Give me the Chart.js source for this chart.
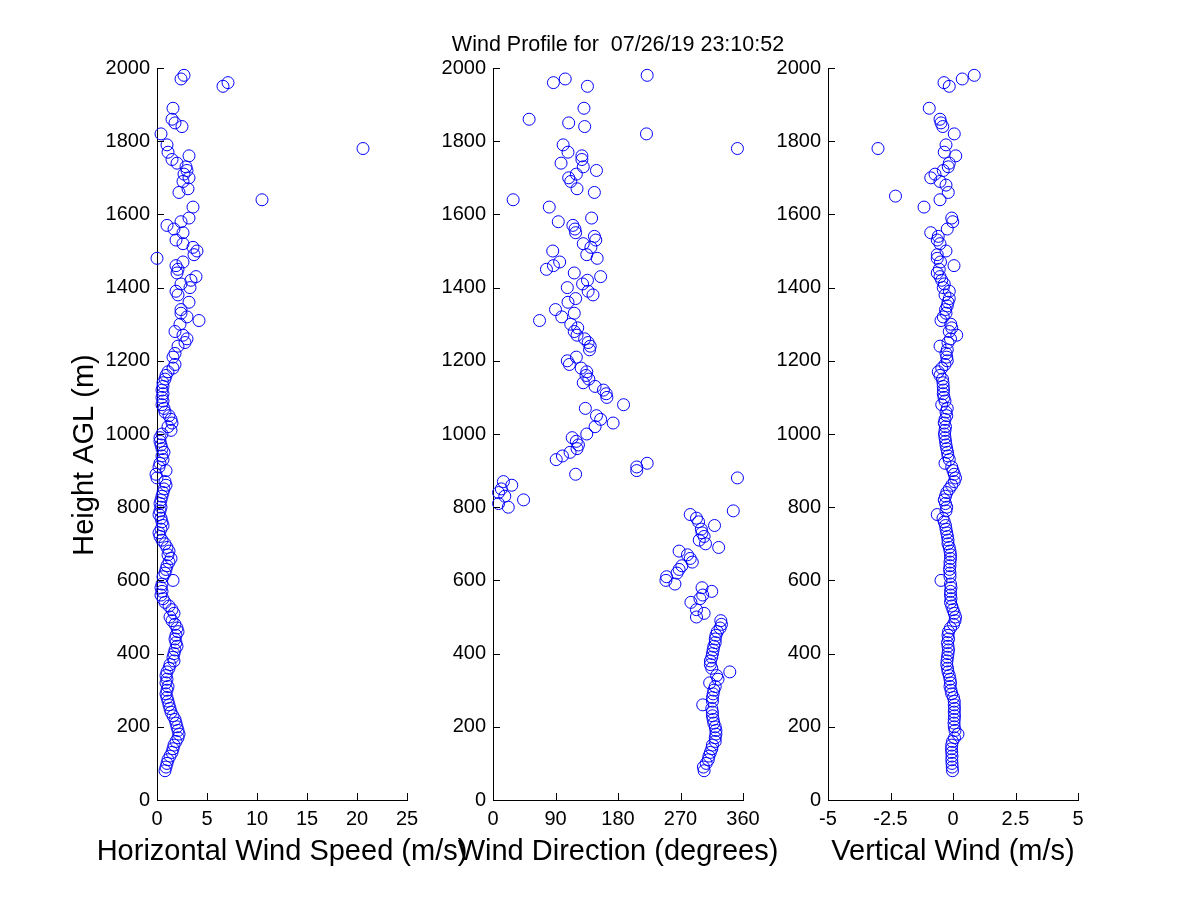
<!DOCTYPE html>
<html>
<head>
<meta charset="utf-8">
<title>Wind Profile</title>
<script src="https://cdn.jsdelivr.net/npm/chart.js@4.4.0/dist/chart.umd.min.js"></script>
<style>
  html, body { margin: 0; padding: 0; background: #ffffff; }
  #wrap { position: relative; width: 1200px; height: 900px; background: #ffffff; }
  #wrap canvas { position: absolute; left: 0; top: 0; }
</style>
</head>
<body>
<div id="wrap">
  <canvas id="speedChart" width="1200" height="900"></canvas>
  <canvas id="dirChart" width="1200" height="900"></canvas>
  <canvas id="vertChart" width="1200" height="900"></canvas>
</div>
<script>
// ---------------- DATA ----------------
const chartTitle = 'Wind Profile for  07/26/19 23:10:52';
const yAxisTitle = 'Height AGL (m)';
const xTitles = ['Horizontal Wind Speed (m/s)', 'Wind Direction (degrees)', 'Vertical Wind (m/s)'];

// Panel 1: horizontal wind speed (m/s) vs height (m)
const speedHeights = [1980,1970,1960,1950,1890,1860,1850,1840,1820,1790,1780,1770,1760,1750,1740,1730,1720,1710,1700,1690,1670,1660,1640,1620,1590,1580,1570,1560,1550,1530,1520,1510,1500,1490,1480,1470,1460,1450,1440,1430,1420,1410,1400,1390,1380,1360,1340,1330,1320,1310,1300,1280,1270,1260,1250,1240,1220,1210,1190,1180,1170,1160,1150,1140,1130,1120,1110,1100,1090,1080,1070,1060,1050,1040,1030,1020,1010,1000,990,980,970,960,950,940,930,920,910,900,890,880,870,860,850,840,830,820,810,800,790,780,770,760,750,740,730,720,710,700,690,680,670,660,650,640,630,620,610,600,590,580,570,560,550,540,530,520,510,500,490,480,470,460,450,440,430,420,410,400,390,380,370,360,350,340,330,320,310,300,290,280,270,260,250,240,230,220,210,200,190,180,170,160,150,140,130,120,110,100,90,80];
const speedValues  = [2.7,2.4,7.1,6.6,1.6,1.5,1.8,2.5,0.4,1.0,20.6,1.1,3.2,1.5,2.0,2.9,3.0,2.7,3.2,2.6,3.1,2.2,10.5,3.6,3.2,2.4,1.0,1.7,2.6,1.9,2.6,3.6,4.0,3.7,0.0,2.6,1.9,2.1,2.0,3.9,3.4,2.4,3.3,1.9,2.1,3.2,2.4,2.4,3.0,4.2,2.3,1.8,2.6,3.0,2.8,2.1,1.8,1.6,1.8,1.6,1.1,0.9,0.8,0.6,0.6,0.5,0.6,0.5,0.6,0.5,0.7,0.8,1.2,1.4,1.5,1.1,1.4,0.5,0.3,0.3,0.4,0.5,0.7,0.5,0.6,0.3,0.2,0.9,-0.1,0.0,0.8,0.9,0.7,0.6,0.5,0.4,0.3,0.4,0.3,0.2,0.4,0.5,0.6,0.4,0.2,0.3,0.5,0.8,1.0,1.2,1.1,1.4,1.2,1.0,0.9,0.8,0.6,1.6,0.5,0.4,0.5,0.4,0.6,0.8,1.2,1.5,1.7,1.3,1.5,1.8,2.0,2.1,1.9,1.8,1.9,2.0,1.8,1.7,1.6,1.7,1.3,1.2,1.0,0.9,1.0,0.9,1.1,1.0,0.9,1.0,1.1,1.2,1.3,1.4,1.6,1.8,1.9,2.0,2.1,2.2,2.1,1.9,1.7,1.6,1.5,1.3,1.1,1.0,0.9,0.8];

// Panel 2: wind direction (degrees) vs height (m)
const dirHeights = [1980,1970,1960,1950,1890,1860,1850,1840,1820,1790,1780,1770,1760,1750,1740,1730,1720,1710,1700,1690,1670,1660,1640,1620,1590,1580,1570,1560,1550,1540,1530,1520,1510,1500,1490,1480,1470,1460,1450,1440,1430,1420,1410,1400,1390,1380,1370,1360,1340,1330,1320,1310,1300,1290,1280,1270,1260,1250,1240,1230,1210,1200,1190,1180,1170,1160,1150,1140,1130,1120,1110,1100,1080,1070,1050,1040,1030,1020,1000,990,980,970,960,950,940,930,920,910,900,890,880,870,860,850,840,830,820,810,800,790,780,770,760,750,740,730,720,710,700,690,680,670,660,650,640,630,620,610,600,590,580,570,560,550,540,520,510,500,490,480,470,460,450,440,430,420,410,400,390,380,370,360,350,340,330,320,310,300,290,280,270,260,250,240,230,220,210,200,190,180,170,160,150,140,130,120,110,100,90,80];
const dirValues  = [222,104,87,136,131,52,109,132,221,101,352,108,128,128,98,130,149,120,109,112,121,146,29,81,142,94,115,118,119,146,148,130,141,86,135,150,96,87,77,117,155,136,129,107,137,144,119,108,90,117,99,67,112,122,117,121,132,137,140,139,120,107,110,127,135,134,138,130,147,159,163,164,188,133,149,155,173,147,135,114,120,123,121,111,100,91,222,207,207,119,352,15,27,12,8,17,44,8,22,346,284,293,296,319,300,301,304,297,306,325,268,280,284,287,272,268,265,250,249,262,301,315,302,298,285,293,304,293,328,329,327,323,321,320,320,318,317,316,315,313,313,315,341,322,324,312,320,318,317,316,316,302,315,316,316,317,318,320,321,321,320,320,316,315,313,311,310,307,303,304];

// Panel 3: vertical wind (m/s) vs height (m)
const vertHeights = [1980,1970,1960,1950,1890,1860,1850,1840,1820,1790,1780,1770,1760,1740,1730,1720,1710,1700,1690,1680,1660,1650,1640,1620,1590,1580,1560,1550,1540,1530,1520,1500,1490,1480,1470,1460,1450,1440,1430,1420,1410,1400,1390,1380,1370,1360,1350,1340,1330,1320,1310,1300,1290,1280,1270,1260,1250,1240,1230,1220,1210,1200,1190,1180,1170,1160,1150,1140,1130,1120,1110,1100,1090,1080,1070,1060,1050,1040,1030,1020,1010,1000,990,980,970,960,950,940,930,920,910,900,890,880,870,860,850,840,830,820,810,800,790,780,770,760,750,740,730,720,710,700,690,680,670,660,650,640,630,620,610,600,590,580,570,560,550,540,530,520,510,500,490,480,470,460,450,440,430,420,410,400,390,380,370,360,350,340,330,320,310,300,290,280,270,260,250,240,230,220,210,200,190,180,170,160,150,140,130,120,110,100,90,80];
const vertValues  = [0.85,0.37,-0.36,-0.15,-0.95,-0.52,-0.48,-0.41,0.05,-0.28,-3.0,-0.35,0.11,-0.15,-0.19,-0.39,-0.72,-0.89,-0.52,-0.28,-0.19,-2.3,-0.52,-1.16,-0.05,-0.01,-0.23,-0.89,-0.59,-0.63,-0.52,-0.28,-0.63,-0.63,-0.5,0.04,-0.55,-0.63,-0.52,-0.45,-0.35,-0.39,-0.15,-0.32,-0.15,-0.2,-0.23,-0.3,-0.28,-0.39,-0.48,-0.09,-0.05,-0.15,0.15,-0.1,-0.2,-0.52,-0.23,-0.28,-0.25,-0.23,-0.32,-0.45,-0.59,-0.52,-0.42,-0.4,-0.39,-0.38,-0.39,-0.36,-0.32,-0.45,-0.23,-0.28,-0.25,-0.32,-0.35,-0.3,-0.32,-0.34,-0.32,-0.3,-0.28,-0.25,-0.22,-0.2,-0.15,-0.32,-0.05,0.0,0.05,0.1,0.05,-0.05,-0.15,-0.25,-0.3,-0.35,-0.3,-0.25,-0.28,-0.63,-0.4,-0.35,-0.3,-0.28,-0.25,-0.22,-0.2,-0.2,-0.15,-0.12,-0.1,-0.1,-0.12,-0.12,-0.14,-0.12,-0.12,-0.48,-0.1,-0.08,-0.1,-0.1,-0.08,-0.1,-0.05,0.0,0.05,0.1,0.08,0.02,-0.1,-0.18,-0.2,-0.18,-0.22,-0.2,-0.18,-0.2,-0.22,-0.24,-0.25,-0.22,-0.2,-0.15,-0.12,-0.1,-0.12,-0.08,-0.05,0.02,0.05,0.05,0.06,0.05,0.06,0.05,0.04,0.05,0.08,0.2,0.06,-0.02,-0.05,-0.06,-0.05,-0.04,-0.05,-0.04,-0.03,-0.02];

// axis ranges / tick steps
const heightRange = [0, 2000, 200];
const speedRange = [0, 25, 5];
const dirRange = [0, 360, 90];
const vertRange = [-5, 5, 2.5];

// ---------------- STYLE / LAYOUT ----------------
const FONT = "'Liberation Sans', Arial, Helvetica, sans-serif";
Chart.defaults.font.family = FONT;
Chart.defaults.font.size = 20;
Chart.defaults.color = '#000000';

const PLOT_TOP = 68, PLOT_BOTTOM = 800, Y_AXIS_W = 60, X_AXIS_H = 40;
const TICK_LEN = 7;

// inward MATLAB-style ticks, axis titles and figure title
const matlabAxes = {
  id: 'matlabAxes',
  afterDraw(chart, args, opts) {
    const ctx = chart.ctx;
    const xs = chart.scales.x, ys = chart.scales.y;
    const a = chart.chartArea;
    ctx.save();
    ctx.strokeStyle = '#000000';
    ctx.lineWidth = 1;
    ctx.beginPath();
    xs.ticks.forEach(t => {
      const px = Math.round(xs.getPixelForValue(t.value)) + 0.5;
      ctx.moveTo(px, a.bottom); ctx.lineTo(px, a.bottom - TICK_LEN);
    });
    ys.ticks.forEach(t => {
      const py = Math.round(ys.getPixelForValue(t.value)) + 0.5;
      ctx.moveTo(a.left, py); ctx.lineTo(a.left + TICK_LEN, py);
    });
    ctx.stroke();
    ctx.fillStyle = '#000000';
    ctx.textAlign = 'center';
    ctx.textBaseline = 'alphabetic';
    if (opts.mainTitle) {
      ctx.font = '21.5px ' + FONT;
      ctx.fillText(opts.mainTitle, (a.left + a.right) / 2, a.top - 17);
    }
    ctx.font = '29px ' + FONT;
    ctx.fillText(opts.xTitle, (a.left + a.right) / 2, a.bottom + 60);
    if (opts.yTitle) {
      ctx.translate(a.left - 64, (a.top + a.bottom) / 2 + 21);
      ctx.rotate(-Math.PI / 2);
      ctx.fillText(opts.yTitle, 0, 0);
    }
    ctx.restore();
  }
};

function makePanel(id, heights, values, range, left, right, xTitle, yTitle, mainTitle) {
  const pts = heights.map((h, i) => ({ x: values[i], y: h }));
  return new Chart(document.getElementById(id), {
    type: 'scatter',
    data: {
      datasets: [{
        data: pts,
        showLine: false,
        pointStyle: 'circle',
        pointRadius: 6,
        pointHoverRadius: 6,
        pointBorderWidth: 1,
        borderColor: '#0000ff',
        backgroundColor: 'rgba(0,0,0,0)',
        clip: false
      }]
    },
    options: {
      responsive: false,
      animation: false,
      events: [],
      layout: {
        padding: {
          left: left - Y_AXIS_W,
          right: 1200 - right,
          top: PLOT_TOP,
          bottom: 900 - PLOT_BOTTOM - X_AXIS_H
        }
      },
      plugins: {
        legend: { display: false },
        tooltip: { enabled: false },
        title: { display: false },
        matlabAxes: { xTitle: xTitle, yTitle: yTitle, mainTitle: mainTitle }
      },
      scales: {
        x: {
          type: 'linear',
          position: 'bottom',
          min: range[0], max: range[1],
          grid: { display: false, drawTicks: false },
          border: { display: true, color: '#000000', width: 1 },
          ticks: {
            stepSize: range[2],
            padding: 7,
            maxRotation: 0,
            autoSkip: false,
            color: '#000000',
            font: { size: 20, family: FONT },
            callback: v => String(v)
          },
          afterFit: s => { s.height = X_AXIS_H; }
        },
        y: {
          type: 'linear',
          position: 'left',
          min: heightRange[0], max: heightRange[1],
          grid: { display: false, drawTicks: false },
          border: { display: true, color: '#000000', width: 1 },
          ticks: {
            stepSize: heightRange[2],
            padding: 7,
            autoSkip: false,
            color: '#000000',
            font: { size: 20, family: FONT },
            callback: v => String(v)
          },
          afterFit: s => { s.width = Y_AXIS_W; }
        }
      }
    },
    plugins: [matlabAxes]
  });
}

makePanel('speedChart', speedHeights, speedValues, speedRange, 157, 407, xTitles[0], yAxisTitle, null);
makePanel('dirChart', dirHeights, dirValues, dirRange, 493, 743, xTitles[1], null, chartTitle);
makePanel('vertChart', vertHeights, vertValues, vertRange, 828, 1078, xTitles[2], null, null);
</script>
</body>
</html>
